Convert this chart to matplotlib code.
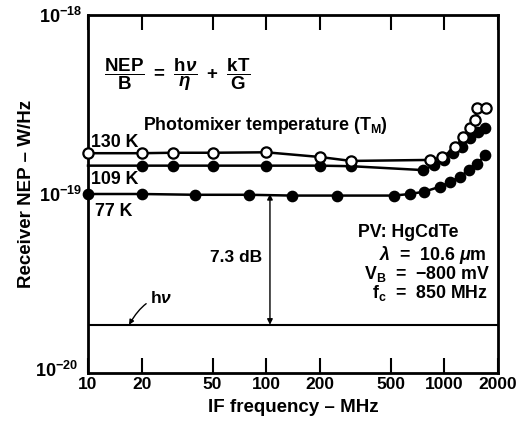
import matplotlib
matplotlib.use("Agg")
import matplotlib.pyplot as plt
import matplotlib.transforms as mtransforms
from matplotlib.patches import FancyArrowPatch

plt.rcParams['font.family'] = ['Liberation Sans', 'DejaVu Sans']
plt.rcParams['font.weight'] = 'bold'
plt.rcParams['axes.labelweight'] = 'bold'
plt.rcParams['mathtext.fontset'] = 'custom'
plt.rcParams['mathtext.rm'] = 'Liberation Sans:bold'
plt.rcParams['mathtext.bf'] = 'Liberation Sans:bold'
plt.rcParams['mathtext.it'] = 'Liberation Sans:italic:bold'
plt.rcParams['mathtext.sf'] = 'Liberation Sans:bold'

# Receiver NEP (W/Hz) versus IF frequency (MHz) for three photomixer temperatures
f_130 = [10, 20, 30, 50, 100, 200, 300, 830, 970, 1150, 1280, 1400, 1490, 1530, 1720]
nep_130 = [1.69e-19, 1.69e-19, 1.70e-19, 1.70e-19, 1.71e-19, 1.61e-19, 1.53e-19,
           1.55e-19, 1.60e-19, 1.82e-19, 2.09e-19, 2.33e-19, 2.59e-19, 3.01e-19, 3.01e-19]

f_109 = [10, 20, 30, 50, 100, 200, 300, 760, 870, 990, 1120, 1260, 1400, 1550, 1700]
nep_109 = [1.44e-19, 1.44e-19, 1.44e-19, 1.44e-19, 1.44e-19, 1.44e-19, 1.43e-19,
           1.36e-19, 1.45e-19, 1.55e-19, 1.69e-19, 1.84e-19, 2.05e-19, 2.23e-19, 2.33e-19]
marker_start_109 = 1  # first point only anchors the line at the axis

f_77 = [10, 20, 40, 80, 140, 250, 520, 640, 770, 950, 1080, 1230, 1370, 1530, 1700]
nep_77 = [1.0e-19, 1.0e-19, 0.99e-19, 0.99e-19, 0.98e-19, 0.98e-19, 0.98e-19, 1.0e-19,
          1.03e-19, 1.10e-19, 1.17e-19, 1.25e-19, 1.36e-19, 1.48e-19, 1.65e-19]

h_nu = 1.86e-20       # quantum limit
ref_77 = 1.0e-19      # 77 K plateau
gap_freq = 105        # where the 7.3 dB gap is marked

x_ticks = [10, 20, 50, 100, 200, 500, 1000, 2000]
x_tick_labels = ['10', '20', '50', '100', '200', '500', '1000', '2000']
y_ticks = [1e-20, 1e-19, 1e-18]
y_tick_labels = [r'$10^{-20}$', r'$10^{-19}$', r'$10^{-18}$']

fig = plt.figure(figsize=(5.31, 4.28), dpi=100)
ax = fig.add_axes([88 / 531, 1 - 373 / 428, (498 - 88) / 531, (373 - 15) / 428])
ax.set_xscale('log')
ax.set_yscale('log')
ax.set_xlim(10, 2000)
ax.set_ylim(1e-20, 1e-18)

lw = 1.8
ms = 7.4
ax.plot(f_130, nep_130, '-', color='black', lw=lw, marker='o', ms=ms,
        mfc='white', mec='black', mew=1.6, clip_on=False, zorder=4)
ax.plot(f_109, nep_109, '-', color='black', lw=lw, zorder=3, clip_on=False)
ax.plot(f_109[marker_start_109:], nep_109[marker_start_109:], 'o', color='black',
        ms=ms, zorder=3)
ax.plot(f_77, nep_77, '-', color='black', lw=lw, marker='o', ms=ms,
        mfc='black', mec='black', clip_on=False, zorder=3)

ax.axhline(h_nu, color='black', lw=1.5, zorder=2)

# 7.3 dB gap between the 77 K plateau and the quantum limit
arr = FancyArrowPatch((gap_freq, ref_77), (gap_freq, h_nu), arrowstyle='<|-|>',
                      mutation_scale=8, color='black', lw=1.0, shrinkA=0, shrinkB=0)
ax.add_patch(arr)
ax.text(gap_freq * 0.9, 4.39e-20, '7.3 dB', ha='right', va='center', fontsize=12.5,
        bbox=dict(facecolor='white', edgecolor='none', pad=1))

# h-nu label with leader
ax.annotate(r'h$\nu$', xy=(17.0, h_nu), xytext=(22.3, 2.62e-20), fontsize=12.5,
            va='center', ha='left',
            arrowprops=dict(arrowstyle='-|>', color='black', lw=1.0,
                            mutation_scale=7, shrinkA=1, shrinkB=0,
                            connectionstyle='angle3,angleA=180,angleB=60'))

ax.text(12.3, 4.62e-19,
        r'$\dfrac{\mathrm{NEP}}{\mathrm{B}}\ =\ \dfrac{\mathrm{h}\nu}{\eta}\ +\ \dfrac{\mathrm{kT}}{\mathrm{G}}$',
        fontsize=13.5, va='center', ha='left')
ax.text(20.4, 2.40e-19, r'Photomixer temperature (T$_\mathrm{M}$)', fontsize=12.8,
        va='center', ha='left')
ax.text(10.4, 1.93e-19, '130 K', fontsize=12.8, va='center', ha='left')
ax.text(10.4, 1.20e-19, '109 K', fontsize=12.8, va='center', ha='left')
ax.text(10.9, 0.80e-19, '77 K', fontsize=12.8, va='center', ha='left')

ax.text(329, 6.13e-20, 'PV: HgCdTe', fontsize=12.8, va='center', ha='left')
ax.text(1720, 4.56e-20, r'$\lambda$  =  10.6 $\mu$m', fontsize=12.8, va='center', ha='right')
ax.text(1800, 3.57e-20, r'V$_\mathrm{B}$  =  $-$800 mV', fontsize=12.8, va='center', ha='right')
ax.text(1760, 2.80e-20, r'f$_\mathrm{c}$  =  850 MHz', fontsize=12.8, va='center', ha='right')

ax.set_xticks(x_ticks)
ax.set_xticklabels(x_tick_labels, fontsize=12.5, fontweight='bold')
ax.xaxis.set_minor_locator(matplotlib.ticker.NullLocator())
ax.set_yticks(y_ticks)
ax.set_yticklabels(y_tick_labels, fontsize=13)
ax.yaxis.set_minor_locator(matplotlib.ticker.NullLocator())
ax.tick_params(axis='x', which='major', direction='in', length=11, width=1.5,
               top=True, bottom=True, pad=3)
ax.tick_params(axis='y', which='major', length=0, pad=4)
# nudge the lowest y label left and up a little so it clears the first x label
lbl = ax.get_yticklabels()[0]
lbl.set_transform(lbl.get_transform() +
                  mtransforms.ScaledTranslation(-3 / 72, 3 / 72, fig.dpi_scale_trans))

for s in ax.spines.values():
    s.set_linewidth(2.0)

ax.set_xlabel('IF frequency – MHz', fontsize=13.5, fontweight='bold', labelpad=5)
ax.set_ylabel('Receiver NEP – W/Hz', fontsize=13.5, fontweight='bold', labelpad=0)

fig.savefig('out.png', dpi=100)
